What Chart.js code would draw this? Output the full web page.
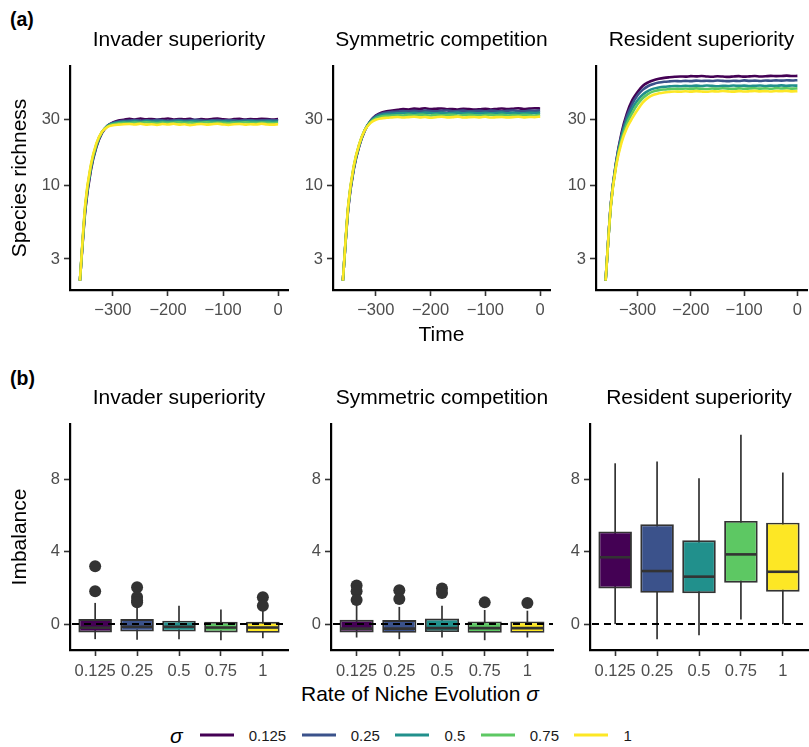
<!DOCTYPE html>
<html>
<head>
<meta charset="utf-8">
<title>Species richness and imbalance</title>
<script src="https://cdn.jsdelivr.net/npm/chart.js@4/dist/chart.umd.min.js"></script>
<style>
    body {
        margin: 0;
        width: 809px;
        height: 747px;
        overflow: hidden;
        background: #fff;
        position: relative;
        font-family: 'Liberation Sans', Arial, sans-serif;
        color: #000;
    }
    canvas { position: absolute; }
    .lbl {
        position: absolute;
        line-height: 1;
        white-space: nowrap;
        transform: translateY(-50%);
    }
    .tag { font-weight: bold; font-size: 19.5px; left: 10px; }
    #xtitle { font-size: 21px; left: 420px; top: 693px; transform: translate(-50%, -50%); }
    #legend { left: 170px; top: 735px; display: flex; align-items: center; font-size: 15px; color: #1a1a1a; }
    #legend .sym { font-size: 21px; font-style: italic; color: #000; margin-right: 17px; }
    #legend .key { width: 34px; height: 2.5px; margin-right: 15px; }
    #legend .txt { margin-right: 15.5px; }
</style>
</head>
<body>
<div class="lbl tag" style="top:20px">(a)</div>
<div class="lbl tag" style="top:379px">(b)</div>
<div class="lbl" id="xtitle">Rate of Niche Evolution <i>σ</i></div>
<div class="lbl" id="legend"><span class="sym">σ</span></div>

<canvas id="rInv"></canvas>
<canvas id="rSym"></canvas>
<canvas id="rRes"></canvas>
<canvas id="bInv"></canvas>
<canvas id="bSym"></canvas>
<canvas id="bRes"></canvas>

<script>
// Time axis of the richness runs
var TIME = [-360, -350, -340, -330, -320, -310, -300, -290, -280, -270, -260,
    -250, -240, -230, -220, -210, -200, -190, -180, -170, -160, -150, -140,
    -130, -120, -110, -100, -90, -80, -70, -60, -50, -40, -30, -20, -10, 0];
var TIME_TICKS = [-300, -200, -100, 0];
var RICH_TICKS = [3, 10, 30];
var IMB_TICKS = [0, 4, 8];
var SIGMA = ['0.125', '0.25', '0.5', '0.75', '1'];
var COLORS = ['#440154', '#3B528B', '#21908C', '#5DC863', '#FDE725'];

// Species richness, invader superiority
var inv125 = [2.1, 6.8, 13.0, 19.0, 23.8, 26.8, 28.4, 29.3, 29.7, 30.2, 29.8, 30.3, 29.9, 30.1, 29.7, 30.0, 30.3, 29.8, 30.1, 29.9, 30.2, 29.6, 30.0, 29.8, 30.1, 30.3, 29.9, 29.7, 30.0, 30.2, 29.8, 30.0, 29.9, 30.2, 30.1, 29.8, 30.1];
var inv25 = [2.1, 7.0, 13.3, 19.3, 24.0, 26.9, 28.2, 28.9, 29.2, 29.3, 29.6, 29.2, 29.5, 29.3, 29.7, 29.4, 29.2, 29.5, 29.6, 29.3, 29.4, 29.7, 29.5, 29.2, 29.4, 29.6, 29.3, 29.5, 29.4, 29.2, 29.6, 29.5, 29.3, 29.4, 29.6, 29.5, 29.4];
var inv5 = [2.1, 7.2, 13.6, 19.6, 24.2, 26.8, 27.9, 28.5, 28.7, 28.8, 29.0, 28.7, 29.1, 28.9, 28.8, 29.0, 28.7, 28.9, 29.1, 28.8, 28.9, 29.0, 28.7, 28.9, 29.1, 28.8, 29.0, 28.9, 28.7, 29.0, 28.8, 29.1, 28.9, 28.8, 29.0, 28.9, 28.8];
var inv75 = [2.1, 7.4, 13.9, 19.9, 24.3, 26.6, 27.6, 28.0, 28.2, 28.1, 28.4, 28.2, 28.5, 28.3, 28.1, 28.4, 28.2, 28.3, 28.5, 28.2, 28.4, 28.1, 28.3, 28.5, 28.2, 28.4, 28.3, 28.1, 28.4, 28.2, 28.5, 28.3, 28.2, 28.4, 28.3, 28.1, 28.3];
var inv1 = [2.1, 7.6, 14.2, 20.2, 24.4, 26.4, 27.1, 27.4, 27.6, 27.7, 27.5, 27.8, 27.4, 27.6, 27.3, 27.7, 27.5, 27.8, 27.4, 27.6, 27.2, 27.5, 27.7, 27.4, 27.6, 27.8, 27.5, 27.3, 27.6, 27.7, 27.4, 27.6, 27.5, 27.8, 27.5, 27.4, 27.6];

// Species richness, symmetric competition
var sym125 = [2.1, 7.0, 13.2, 19.3, 24.8, 29.0, 31.8, 33.4, 34.2, 34.6, 35.0, 35.4, 35.2, 35.7, 35.5, 35.9, 35.4, 35.6, 35.8, 35.3, 35.5, 35.2, 35.6, 35.4, 35.1, 35.3, 35.6, 35.2, 35.5, 35.8, 35.4, 35.6, 35.9, 35.5, 35.7, 35.9, 35.8];
var sym25 = [2.1, 7.1, 13.4, 19.5, 25.0, 29.0, 31.5, 32.8, 33.5, 33.8, 34.0, 34.3, 34.1, 34.4, 34.2, 34.5, 34.3, 34.1, 34.4, 34.6, 34.2, 34.3, 34.5, 34.1, 34.3, 34.4, 34.2, 34.5, 34.3, 34.1, 34.4, 34.6, 34.3, 34.2, 34.5, 34.4, 34.6];
var sym5 = [2.1, 7.2, 13.6, 19.7, 25.1, 28.8, 31.0, 32.1, 32.6, 32.8, 33.0, 33.2, 33.1, 33.3, 33.0, 33.4, 33.2, 33.1, 33.3, 33.0, 33.2, 33.4, 33.1, 33.3, 33.2, 33.0, 33.3, 33.1, 33.2, 33.4, 33.1, 33.3, 33.2, 33.0, 33.3, 33.2, 33.4];
var sym75 = [2.1, 7.3, 13.8, 19.9, 25.1, 28.5, 30.4, 31.3, 31.7, 31.8, 32.0, 31.9, 32.2, 32.0, 32.3, 32.1, 31.9, 32.2, 32.0, 32.1, 32.3, 31.9, 32.1, 32.2, 32.0, 31.8, 32.1, 32.3, 32.0, 32.2, 31.9, 32.1, 32.0, 32.2, 32.1, 31.9, 32.2];
var sym1 = [2.1, 7.4, 14.0, 20.0, 25.0, 28.1, 29.7, 30.4, 30.7, 30.9, 31.1, 30.8, 31.0, 31.2, 30.9, 31.1, 30.7, 31.0, 31.2, 30.9, 31.0, 31.3, 30.8, 31.0, 31.1, 30.9, 31.2, 30.8, 31.0, 31.1, 30.9, 31.0, 31.2, 30.9, 31.1, 31.0, 31.3];

// Species richness, resident superiority
var res125 = [2.1, 7.5, 15.0, 24.0, 33.0, 41.0, 47.0, 52.0, 55.0, 57.0, 58.3, 59.2, 59.8, 60.3, 60.6, 60.4, 60.9, 60.7, 61.1, 60.6, 60.3, 60.8, 60.5, 60.2, 60.6, 60.9, 60.4, 60.7, 61.0, 60.6, 60.8, 61.2, 60.9, 61.1, 61.4, 61.0, 61.2];
var res25 = [2.1, 7.5, 14.9, 23.2, 31.5, 38.5, 44.5, 48.8, 51.8, 53.6, 54.8, 55.5, 55.9, 56.2, 56.0, 56.4, 56.1, 56.6, 56.3, 56.5, 56.2, 56.7, 56.4, 56.1, 56.5, 56.3, 56.8, 56.4, 56.6, 56.3, 56.7, 56.5, 56.8, 56.6, 56.9, 56.7, 57.0];
var res5 = [2.1, 7.4, 14.6, 22.4, 29.5, 35.8, 41.0, 45.0, 47.8, 49.6, 50.6, 51.2, 51.5, 51.8, 51.6, 52.0, 51.7, 52.1, 51.8, 52.2, 51.9, 51.6, 52.0, 51.8, 52.2, 51.9, 52.1, 51.7, 52.0, 52.2, 51.8, 52.1, 51.9, 52.3, 52.0, 52.2, 52.1];
var res75 = [2.1, 7.3, 14.3, 21.4, 27.8, 33.2, 38.3, 42.5, 45.5, 47.4, 48.4, 48.9, 49.2, 49.5, 49.3, 49.7, 49.4, 49.8, 49.5, 49.3, 49.7, 49.5, 49.9, 49.6, 49.4, 49.8, 49.5, 49.7, 49.9, 49.6, 49.8, 49.5, 50.0, 49.7, 49.9, 49.6, 49.8];
var res1 = [2.1, 7.3, 14.0, 20.5, 26.0, 30.5, 35.0, 39.5, 42.8, 44.8, 45.9, 46.6, 47.0, 47.3, 47.1, 47.5, 47.2, 47.6, 47.3, 47.1, 47.5, 47.3, 47.7, 47.4, 47.2, 47.6, 47.3, 47.5, 47.8, 47.4, 47.6, 47.3, 47.7, 47.5, 47.8, 47.4, 47.6];

// Imbalance boxplots (one value per sigma)
var invQ1 = [-0.46, -0.41, -0.41, -0.46, -0.48];
var invMed = [-0.2, -0.15, -0.15, -0.19, -0.19];
var invQ3 = [0.28, 0.28, 0.19, 0.13, 0.13];
var invLo = [-0.83, -0.87, -0.83, -0.89, -0.78];
var invHi = [1.17, 0.95, 1.02, 0.8, 0.75];
var invOut = [[3.19, 1.81], [2.04, 1.5, 1.3, 1.2], [], [], [1.48, 1.02]];

var symQ1 = [-0.46, -0.48, -0.44, -0.48, -0.48];
var symMed = [-0.25, -0.25, -0.22, -0.22, -0.22];
var symQ3 = [0.24, 0.22, 0.31, 0.15, 0.15];
var symLo = [-0.74, -0.83, -0.74, -0.89, -0.74];
var symHi = [1.1, 0.95, 1.02, 0.78, 0.74];
var symOut = [[2.13, 1.81, 1.33], [1.87, 1.39], [1.96, 1.72], [1.2], [1.17]];

var resQ1 = [1.97, 1.73, 1.71, 2.29, 1.79];
var resMed = [3.69, 2.93, 2.62, 3.85, 2.89];
var resQ3 = [5.12, 5.51, 4.63, 5.70, 5.60];
var resLo = [0.0, -0.83, -0.61, 0.26, 0.0];
var resHi = [8.88, 8.98, 8.06, 10.45, 8.37];
var resOut = [[], [], [], [], []];

// ---------------------------------------------------------------------

Chart.defaults.font.family = "'Liberation Sans', Arial, sans-serif";
Chart.defaults.color = '#4D4D4D';
Chart.defaults.animation = false;
Chart.defaults.plugins.legend.display = false;
Chart.defaults.plugins.tooltip.enabled = false;

var AXW = 63;      // width given to every y axis
var TITH = 46;     // height of the panel title block
var PADR = 12;
var TICK_FONT = { size: 16.5 };

// Sizes and places a canvas so that its plot area lands on the given box.
function placeCanvas(id, box, xh) {
    var c = document.getElementById(id);
    var w = AXW + (box.right - box.left) + PADR;
    var h = TITH + (box.bottom - box.top) + xh;
    c.width = w;
    c.height = h;
    c.style.width = w + 'px';
    c.style.height = h + 'px';
    c.style.left = (box.left - AXW) + 'px';
    c.style.top = (box.top - TITH) + 'px';
    return c.getContext('2d');
}

function panelTitle(text) {
    return {
        display: true, text: text, fullSize: false, color: '#000',
        font: { size: 21, weight: 'normal' },
        padding: { top: 7.9, bottom: 12.9 }
    };
}

function axisLook() {
    return {
        grid: { drawOnChartArea: false, drawTicks: true, tickLength: 6, tickColor: '#333', tickWidth: 1.6 },
        border: { display: true, color: '#000', width: 2.2 }
    };
}

function fixedTicks(values) {
    return function (scale) {
        scale.ticks = values.map(function (v) { return { value: v }; });
    };
}

function minusSign(v) {
    return v < 0 ? '\u2212' + Math.abs(v) : String(v);
}

// Richness through time, log scale
function richnessChart(id, box, title, series, yTitle, xTitle) {
    var ctx = placeCanvas(id, box, 60);
    var datasets = series.map(function (vals, i) {
        return {
            data: TIME.map(function (t, k) { return { x: t, y: vals[k] }; }),
            borderColor: COLORS[i],
            borderWidth: 2.6,
            pointRadius: 0,
            cubicInterpolationMode: 'monotone',
            order: series.length - i
        };
    });
    var xAxis = Object.assign(axisLook(), {
        type: 'linear', min: -378, max: 18,
        afterBuildTicks: fixedTicks(TIME_TICKS),
        afterFit: function (s) { s.height = 60; },
        ticks: { callback: minusSign, font: TICK_FONT, color: '#4D4D4D', padding: 4.8, maxRotation: 0 },
        title: { display: !!xTitle, text: xTitle || '', color: '#000', font: { size: 21 }, padding: { top: 0, bottom: 2.4 } }
    });
    var yAxis = Object.assign(axisLook(), {
        type: 'logarithmic', min: 1.8, max: 72,
        afterBuildTicks: fixedTicks(RICH_TICKS),
        afterFit: function (s) { s.width = AXW; },
        ticks: { callback: function (v) { return String(v); }, font: TICK_FONT, color: '#4D4D4D', padding: 4 },
        title: { display: !!yTitle, text: yTitle || '', color: '#000', font: { size: 21 }, padding: { top: 0.4, bottom: 0 } }
    });
    return new Chart(ctx, {
        type: 'line',
        data: { datasets: datasets },
        options: {
            responsive: false,
            layout: { padding: { left: 0, right: PADR, top: 0, bottom: 0 } },
            plugins: { title: panelTitle(title) },
            scales: { x: xAxis, y: yAxis }
        }
    });
}

// Whiskers behind each box, medians on top, dashed zero line over everything
var boxWhiskers = {
    id: 'boxWhiskers',
    beforeDatasetDraw: function (chart, args) {
        var ds = chart.data.datasets[args.index];
        if (!ds.whiskerLo) return;
        var y = chart.scales.y, c = chart.ctx;
        c.save();
        c.strokeStyle = '#333';
        c.lineWidth = 1.7;
        args.meta.data.forEach(function (bar, i) {
            c.beginPath();
            c.moveTo(bar.x, y.getPixelForValue(ds.whiskerLo[i]));
            c.lineTo(bar.x, y.getPixelForValue(ds.whiskerHi[i]));
            c.stroke();
        });
        c.restore();
    },
    afterDatasetDraw: function (chart, args) {
        var ds = chart.data.datasets[args.index];
        if (!ds.median) return;
        var y = chart.scales.y, c = chart.ctx;
        c.save();
        c.strokeStyle = '#333';
        c.lineWidth = 2.6;
        args.meta.data.forEach(function (bar, i) {
            var py = y.getPixelForValue(ds.median[i]);
            c.beginPath();
            c.moveTo(bar.x - bar.width / 2 + 1, py);
            c.lineTo(bar.x + bar.width / 2 - 1, py);
            c.stroke();
        });
        c.restore();
    },
    afterDatasetsDraw: function (chart) {
        var a = chart.chartArea, c = chart.ctx;
        var py = chart.scales.y.getPixelForValue(0);
        c.save();
        c.strokeStyle = '#000';
        c.lineWidth = 2;
        c.setLineDash([7, 5]);
        c.beginPath();
        c.moveTo(a.left + 2, py);
        c.lineTo(a.right, py);
        c.stroke();
        c.restore();
    }
};

// Imbalance boxplots per sigma
function imbalanceChart(id, box, title, q1, med, q3, lo, hi, out, yTitle) {
    var ctx = placeCanvas(id, box, 36);
    var points = [];
    out.forEach(function (vals, i) {
        vals.forEach(function (v) { points.push({ x: i + 1, y: v }); });
    });
    var xAxis = Object.assign(axisLook(), {
        type: 'linear', min: 0.4, max: 5.6, offset: false,
        afterBuildTicks: fixedTicks(SIGMA.map(function (s, i) { return i + 1; })),
        afterFit: function (s) { s.height = 36; },
        ticks: { callback: function (v) { return SIGMA[Math.round(v) - 1]; }, font: TICK_FONT, color: '#4D4D4D', padding: 5.2, maxRotation: 0 }
    });
    xAxis.grid.offset = false;
    var yAxis = Object.assign(axisLook(), {
        type: 'linear', min: -1.43, max: 11.05,
        afterBuildTicks: fixedTicks(IMB_TICKS),
        afterFit: function (s) { s.width = AXW; },
        ticks: { font: TICK_FONT, color: '#4D4D4D', padding: 4 },
        title: { display: !!yTitle, text: yTitle || '', color: '#000', font: { size: 21 }, padding: { top: 0.4, bottom: 0 } }
    });
    return new Chart(ctx, {
        type: 'bar',
        data: {
            datasets: [{
                type: 'bar',
                data: q1.map(function (v, i) { return { x: i + 1, y: [v, q3[i]] }; }),
                backgroundColor: COLORS,
                borderColor: '#333',
                borderWidth: 1.9,
                borderSkipped: false,
                barPercentage: 0.8,
                categoryPercentage: 1,
                whiskerLo: lo,
                whiskerHi: hi,
                median: med,
                order: 2
            }, {
                type: 'line',
                data: points,
                showLine: false,
                pointRadius: 6,
                pointBackgroundColor: '#333',
                pointBorderWidth: 0,
                order: 1
            }]
        },
        options: {
            responsive: false,
            layout: { padding: { left: 0, right: PADR, top: 0, bottom: 0 } },
            plugins: { title: panelTitle(title) },
            scales: { x: xAxis, y: yAxis }
        },
        plugins: [boxWhiskers]
    });
}

// Legend along the bottom
var legend = document.getElementById('legend');
SIGMA.forEach(function (s, i) {
    var key = document.createElement('span');
    key.className = 'key';
    key.style.background = COLORS[i];
    var txt = document.createElement('span');
    txt.className = 'txt';
    txt.textContent = s;
    legend.appendChild(key);
    legend.appendChild(txt);
});

richnessChart('rInv', { left: 70, right: 288, top: 66, bottom: 290 }, 'Invader superiority',
    [inv125, inv25, inv5, inv75, inv1], 'Species richness', null);
richnessChart('rSym', { left: 333, right: 550, top: 66, bottom: 290 }, 'Symmetric competition',
    [sym125, sym25, sym5, sym75, sym1], null, 'Time');
richnessChart('rRes', { left: 596, right: 807, top: 66, bottom: 290 }, 'Resident superiority',
    [res125, res25, res5, res75, res1], null, null);

imbalanceChart('bInv', { left: 70, right: 288, top: 424, bottom: 650 }, 'Invader superiority',
    invQ1, invMed, invQ3, invLo, invHi, invOut, 'Imbalance');
imbalanceChart('bSym', { left: 331, right: 553, top: 424, bottom: 650 }, 'Symmetric competition',
    symQ1, symMed, symQ3, symLo, symHi, symOut, null);
imbalanceChart('bRes', { left: 590, right: 808, top: 424, bottom: 650 }, 'Resident superiority',
    resQ1, resMed, resQ3, resLo, resHi, resOut, null);
</script>
</body>
</html>
